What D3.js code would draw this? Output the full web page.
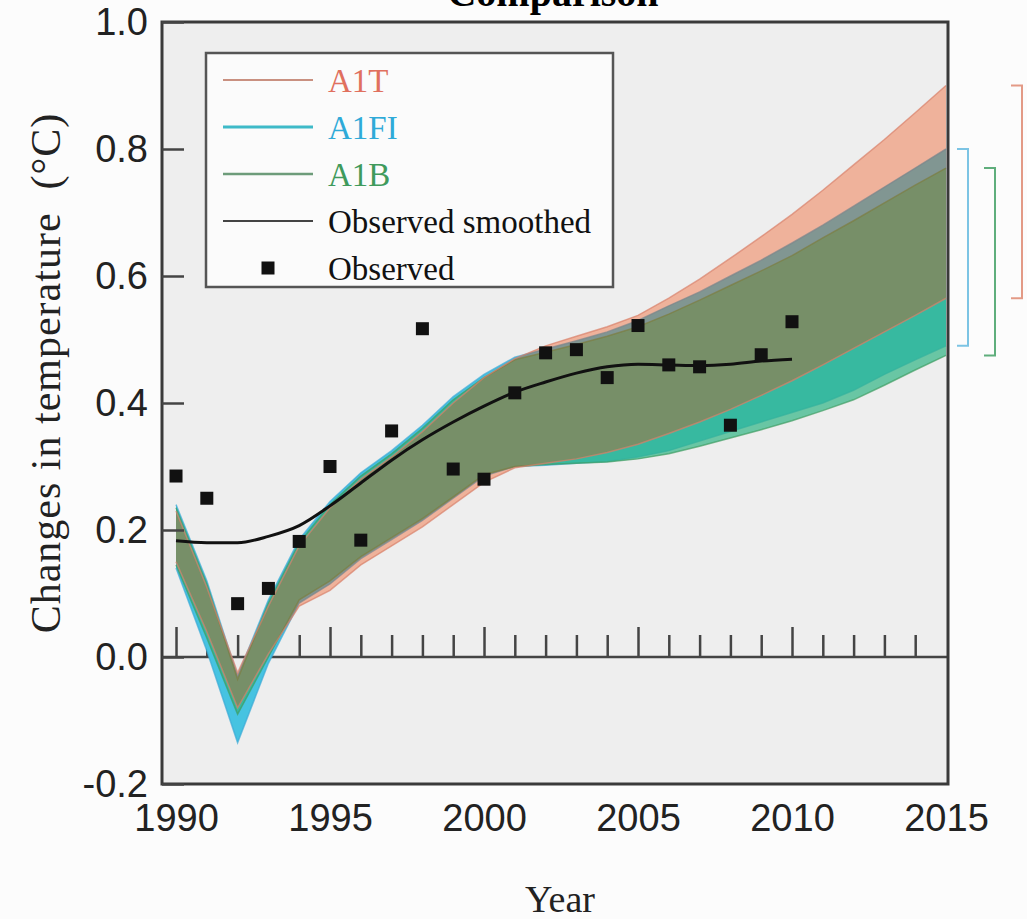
<!DOCTYPE html>
<html>
<head>
<meta charset="utf-8">
<script src="https://cdn.jsdelivr.net/npm/d3@7"></script>
<style>
  body { margin: 0; background: #fcfcfc; }
  svg { display: block; }
</style>
</head>
<body>
<div id="chart"></div>
<script>
// scenario years and ranges (°C)
const bandYears = [1990, 1991, 1992, 1993, 1994, 1995, 1996, 1997, 1998, 1999, 2000, 2001, 2002,
    2003, 2004, 2005, 2006, 2007, 2008, 2009, 2010, 2011, 2012, 2013, 2014, 2015];

const a1tUpper = [0.23, 0.11, -0.025, 0.08, 0.175, 0.235, 0.28, 0.315, 0.355, 0.40, 0.44, 0.47, 0.49,
    0.505, 0.52, 0.538, 0.565, 0.595, 0.628, 0.662, 0.697, 0.735, 0.775, 0.815, 0.857, 0.90];
const a1tLower = [0.15, 0.04, -0.08, 0.005, 0.08, 0.105, 0.145, 0.175, 0.205, 0.24, 0.275, 0.298, 0.305,
    0.312, 0.322, 0.335, 0.352, 0.37, 0.39, 0.412, 0.435, 0.46, 0.486, 0.512, 0.538, 0.565];

const a1fiUpper = [0.24, 0.12, -0.03, 0.09, 0.185, 0.245, 0.29, 0.325, 0.365, 0.41, 0.445, 0.472, 0.485,
    0.498, 0.512, 0.53, 0.553, 0.575, 0.60, 0.625, 0.652, 0.68, 0.71, 0.74, 0.77, 0.80];
const a1fiLower = [0.14, 0.01, -0.135, -0.01, 0.085, 0.115, 0.155, 0.185, 0.215, 0.25, 0.285, 0.30, 0.302,
    0.305, 0.308, 0.315, 0.325, 0.34, 0.355, 0.37, 0.385, 0.40, 0.42, 0.445, 0.468, 0.49];

const a1bUpper = [0.235, 0.115, -0.035, 0.085, 0.18, 0.24, 0.285, 0.32, 0.36, 0.405, 0.44, 0.468, 0.48,
    0.492, 0.505, 0.52, 0.54, 0.562, 0.585, 0.608, 0.632, 0.66, 0.687, 0.715, 0.743, 0.77];
const a1bLower = [0.145, 0.03, -0.09, 0.0, 0.09, 0.12, 0.158, 0.188, 0.218, 0.252, 0.287, 0.30, 0.303,
    0.305, 0.307, 0.312, 0.32, 0.332, 0.345, 0.358, 0.372, 0.388, 0.405, 0.428, 0.452, 0.475];

// observations
const obsYears = [1990, 1991, 1992, 1993, 1994, 1995, 1996, 1997, 1998, 1999, 2000,
    2001, 2002, 2003, 2004, 2005, 2006, 2007, 2008, 2009, 2010];
const observed = [0.285, 0.25, 0.084, 0.108, 0.182, 0.30, 0.184, 0.356, 0.517, 0.296, 0.28,
    0.416, 0.479, 0.484, 0.44, 0.522, 0.46, 0.457, 0.365, 0.476, 0.528];
const smoothed = [0.183, 0.18, 0.18, 0.19, 0.207, 0.238, 0.274, 0.31, 0.342, 0.37, 0.395,
    0.417, 0.433, 0.447, 0.457, 0.461, 0.46, 0.459, 0.461, 0.466, 0.469];

// axes
const xTickYears = [1990, 1995, 2000, 2005, 2010, 2015];
const yTicks = [-0.2, 0.0, 0.2, 0.4, 0.6, 0.8, 1.0];
const legendLabels = ["A1T", "A1FI", "A1B", "Observed smoothed", "Observed"];

const width = 1027;
const height = 919;
const margin = { top: 22, right: 79, bottom: 135, left: 162 };
const serif = "'Liberation Serif', 'Times New Roman', serif";
const sans = "'Liberation Sans', Arial, sans-serif";

const svg = d3.select("#chart").append("svg")
    .attr("width", width)
    .attr("height", height);

const x = d3.scaleLinear()
    .domain([1989.545, 2015.065])
    .range([margin.left, width - margin.right]);

const y = d3.scaleLinear()
    .domain([-0.2, 1.0])
    .range([height - margin.bottom, margin.top]);

// plot background
svg.append("rect")
    .attr("x", margin.left)
    .attr("y", margin.top)
    .attr("width", width - margin.left - margin.right)
    .attr("height", height - margin.top - margin.bottom)
    .attr("fill", "#eeeeee");

// title, cut off at the top as in the source figure
svg.append("text")
    .attr("x", 553)
    .attr("y", 6)
    .attr("text-anchor", "middle")
    .style("font-family", serif)
    .style("font-weight", "bold")
    .style("font-size", "40px")
    .text("Comparison");

// zero line with year ticks
svg.append("line")
    .attr("x1", margin.left)
    .attr("x2", width - margin.right)
    .attr("y1", y(0))
    .attr("y2", y(0))
    .attr("stroke", "#444")
    .attr("stroke-width", 2.5);

const minorYears = bandYears.filter(d => d % 5 !== 0);
const majorYears = xTickYears.filter(d => d < 2015);

[[minorYears, 22], [majorYears, 30]].forEach(([vals, size]) => {
    svg.append("g")
        .attr("transform", `translate(0, ${y(0)})`)
        .call(d3.axisTop(x).tickValues(vals).tickSize(size).tickFormat(""))
        .call(g => g.select(".domain").remove())
        .selectAll("line")
        .attr("stroke", "#444")
        .attr("stroke-width", 2.5);
});

// scenario bands
const bands = [
    { key: "A1FI", upper: a1fiUpper, lower: a1fiLower, fill: "rgb(70,195,225)", opacity: 1, edge: "#3aa9d6", bracket: "#7cc4e4", bx: 20 },
    { key: "A1B", upper: a1bUpper, lower: a1bLower, fill: "rgb(49,181,132)", opacity: 0.7, edge: "#3f9c62", bracket: "#5fae7c", bx: 47 },
    { key: "A1T", upper: a1tUpper, lower: a1tLower, fill: "rgb(240,67,0)", opacity: 0.35, edge: "#d9806a", bracket: "#e39a86", bx: 74 }
];

const area = d3.area()
    .x((d, i) => x(bandYears[i]))
    .y0(d => y(d[0]))
    .y1(d => y(d[1]));

const edge = d3.line()
    .x((d, i) => x(bandYears[i]))
    .y(d => y(d));

bands.forEach(b => {
    const pts = b.lower.map((v, i) => [v, b.upper[i]]);
    svg.append("path")
        .attr("d", area(pts))
        .attr("fill", b.fill)
        .attr("fill-opacity", b.opacity);
    [b.upper, b.lower].forEach(arr => {
        svg.append("path")
            .attr("d", edge(arr))
            .attr("fill", "none")
            .attr("stroke", b.edge)
            .attr("stroke-width", 1.5)
            .attr("stroke-opacity", 0.7);
    });
});

// 2015 range brackets to the right of the plot
bands.forEach(b => {
    const bx = width - margin.right + b.bx;
    const top = y(b.upper[b.upper.length - 1]);
    const bot = y(b.lower[b.lower.length - 1]);
    svg.append("path")
        .attr("d", `M${bx - 11},${top}H${bx}V${bot}H${bx - 11}`)
        .attr("fill", "none")
        .attr("stroke", b.bracket)
        .attr("stroke-width", 2);
});

// observed smoothed
svg.append("path")
    .datum(smoothed)
    .attr("d", d3.line()
        .x((d, i) => x(obsYears[i]))
        .y(d => y(d))
        .curve(d3.curveMonotoneX))
    .attr("fill", "none")
    .attr("stroke", "#111")
    .attr("stroke-width", 3);

// observed points
const sq = 13;
svg.append("g")
    .selectAll("rect")
    .data(observed)
    .enter()
    .append("rect")
    .attr("x", (d, i) => x(obsYears[i]) - sq / 2)
    .attr("y", d => y(d) - sq / 2)
    .attr("width", sq)
    .attr("height", sq)
    .attr("fill", "#111");

// frame
svg.append("rect")
    .attr("x", margin.left)
    .attr("y", margin.top)
    .attr("width", width - margin.left - margin.right)
    .attr("height", height - margin.top - margin.bottom)
    .attr("fill", "none")
    .attr("stroke", "#3a3a3a")
    .attr("stroke-width", 3);

// y axis (ticks inside)
svg.append("g")
    .attr("transform", `translate(${margin.left}, 0)`)
    .call(d3.axisLeft(y).tickValues(yTicks).tickSizeInner(-22).tickSizeOuter(0).tickPadding(14)
        .tickFormat(d => d.toFixed(1)))
    .call(g => g.select(".domain").remove())
    .call(g => g.selectAll("line").attr("stroke", "#444").attr("stroke-width", 2.5))
    .selectAll("text")
    .style("font-family", sans)
    .style("font-size", "38px")
    .attr("fill", "#222");

// x axis labels
svg.append("g")
    .attr("transform", `translate(0, ${height - margin.bottom})`)
    .call(d3.axisBottom(x).tickValues(xTickYears).tickSize(0).tickPadding(20).tickFormat(d3.format("d")))
    .call(g => g.select(".domain").remove())
    .selectAll("text")
    .style("font-family", sans)
    .style("font-size", "38px")
    .attr("fill", "#222");

// axis titles
svg.append("text")
    .attr("transform", "translate(60, 373) rotate(-90)")
    .attr("text-anchor", "middle")
    .style("font-family", serif)
    .style("font-size", "42px")
    .style("letter-spacing", "1px")
    .attr("fill", "#222")
    .text("Changes in temperature\u00a0 (\u00b0C)");

svg.append("text")
    .attr("x", 560)
    .attr("y", 912)
    .attr("text-anchor", "middle")
    .style("font-family", serif)
    .style("font-size", "38px")
    .attr("fill", "#222")
    .text("Year");

// legend
const legend = svg.append("g");
legend.append("rect")
    .attr("x", 206)
    .attr("y", 53)
    .attr("width", 407)
    .attr("height", 234)
    .attr("fill", "#fbfbfb")
    .attr("stroke", "#555")
    .attr("stroke-width", 2.5);

const ly = d3.scalePoint().domain(legendLabels).range([80, 268]);
const legendStyle = {
    "A1T": { line: "#c99080", width: 2, text: "#e0705e" },
    "A1FI": { line: "#3ebac8", width: 3, text: "#2faad8" },
    "A1B": { line: "#6d9c7a", width: 2.5, text: "#3f9a5c" },
    "Observed smoothed": { line: "#444", width: 2, text: "#111" },
    "Observed": { line: null, width: 0, text: "#111" }
};

legendLabels.forEach(label => {
    const s = legendStyle[label];
    if (s.line) {
        legend.append("line")
            .attr("x1", 223).attr("x2", 313)
            .attr("y1", ly(label)).attr("y2", ly(label))
            .attr("stroke", s.line)
            .attr("stroke-width", s.width);
    } else {
        legend.append("rect")
            .attr("x", 268 - sq / 2)
            .attr("y", ly(label) - sq / 2)
            .attr("width", sq)
            .attr("height", sq)
            .attr("fill", "#111");
    }
    legend.append("text")
        .attr("x", 328)
        .attr("y", ly(label))
        .attr("dy", "0.35em")
        .style("font-family", serif)
        .style("font-size", "33px")
        .attr("fill", s.text)
        .text(label);
});
</script>
</body>
</html>
